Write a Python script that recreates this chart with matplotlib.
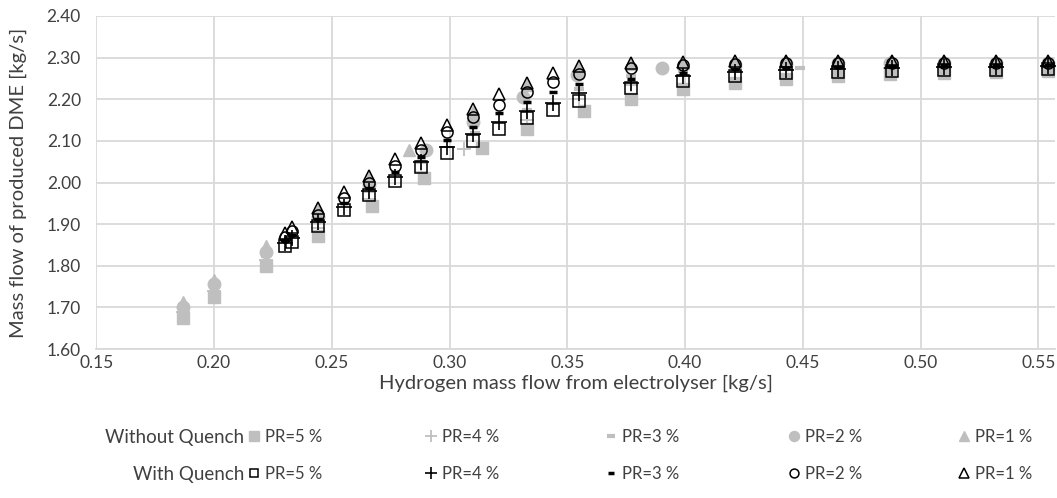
import matplotlib
matplotlib.use("Agg")
import matplotlib.pyplot as plt
from matplotlib.lines import Line2D

plt.rcParams["font.family"] = ["Lato", "DejaVu Sans"]

GREY = "#BFBFBF"
BLACK = "#000000"

# without quench (grey, filled)
nq_sq_x = [0.187, 0.200, 0.222, 0.244, 0.267, 0.289, 0.314, 0.333, 0.357, 0.377, 0.399, 0.421, 0.443, 0.465, 0.487, 0.510, 0.532, 0.554]
nq_sq_y = [1.675, 1.725, 1.800, 1.872, 1.943, 2.010, 2.082, 2.128, 2.172, 2.200, 2.224, 2.238, 2.248, 2.255, 2.260, 2.263, 2.265, 2.267]

nq_pl_x = [0.187, 0.200, 0.222, 0.244, 0.266, 0.288, 0.306, 0.333, 0.355, 0.377, 0.399, 0.421, 0.443, 0.465, 0.487, 0.510, 0.532, 0.554]
nq_pl_y = [1.690, 1.740, 1.815, 1.890, 1.960, 2.025, 2.080, 2.150, 2.200, 2.235, 2.255, 2.265, 2.270, 2.272, 2.274, 2.275, 2.276, 2.276]

nq_da_x = [0.187, 0.200, 0.222, 0.244, 0.266, 0.288, 0.311, 0.333, 0.355, 0.377, 0.399, 0.421, 0.449, 0.465, 0.487, 0.510, 0.532, 0.554]
nq_da_y = [1.695, 1.748, 1.823, 1.905, 1.980, 2.050, 2.120, 2.175, 2.225, 2.255, 2.268, 2.272, 2.275, 2.277, 2.278, 2.279, 2.280, 2.280]

nq_ci_x = [0.187, 0.200, 0.222, 0.244, 0.266, 0.290, 0.310, 0.331, 0.354, 0.390, 0.421, 0.443, 0.465, 0.487, 0.510, 0.532, 0.554]
nq_ci_y = [1.700, 1.756, 1.832, 1.918, 1.995, 2.078, 2.145, 2.205, 2.258, 2.275, 2.283, 2.285, 2.286, 2.287, 2.287, 2.287, 2.287]

nq_tr_x = [0.187, 0.200, 0.222, 0.244, 0.266, 0.283, 0.310, 0.333, 0.355, 0.377, 0.399, 0.421, 0.443, 0.465, 0.487, 0.510, 0.532, 0.554]
nq_tr_y = [1.712, 1.766, 1.848, 1.935, 2.012, 2.078, 2.170, 2.235, 2.278, 2.285, 2.288, 2.289, 2.290, 2.290, 2.290, 2.290, 2.290, 2.290]

# with quench (black, hollow)
wq_x = [0.230, 0.233, 0.244, 0.255, 0.266, 0.277, 0.288, 0.299, 0.310, 0.321, 0.333, 0.344, 0.355, 0.377, 0.399, 0.421, 0.443, 0.465, 0.488, 0.510, 0.532, 0.554]
wq_sq = [1.847, 1.857, 1.895, 1.934, 1.970, 2.004, 2.037, 2.071, 2.100, 2.128, 2.155, 2.174, 2.196, 2.227, 2.244, 2.256, 2.263, 2.266, 2.268, 2.270, 2.270, 2.272]
wq_pl = [1.855, 1.866, 1.905, 1.942, 1.980, 2.014, 2.050, 2.085, 2.117, 2.145, 2.172, 2.192, 2.214, 2.238, 2.255, 2.265, 2.270, 2.273, 2.275, 2.277, 2.278, 2.279]
wq_da = [1.862, 1.875, 1.912, 1.950, 1.988, 2.025, 2.062, 2.102, 2.133, 2.167, 2.193, 2.217, 2.237, 2.249, 2.263, 2.272, 2.276, 2.278, 2.280, 2.281, 2.281, 2.282]
wq_ci = [1.870, 1.884, 1.922, 1.963, 2.000, 2.040, 2.078, 2.121, 2.157, 2.186, 2.217, 2.241, 2.261, 2.276, 2.282, 2.285, 2.286, 2.287, 2.287, 2.287, 2.287, 2.287]
wq_tr = [1.879, 1.893, 1.939, 1.977, 2.015, 2.056, 2.095, 2.138, 2.177, 2.212, 2.239, 2.263, 2.280, 2.287, 2.290, 2.291, 2.291, 2.291, 2.291, 2.291, 2.291, 2.291]

labels = ["PR=5 %", "PR=4 %", "PR=3 %", "PR=2 %", "PR=1 %"]

fig = plt.figure(figsize=(10.57, 4.98), dpi=100)
ax = fig.add_axes([0.091, 0.299, 0.907, 0.669])

grey_styles = [
    dict(marker="s", ms=9, mfc=GREY, mec=GREY),
    dict(marker="+", ms=10, mec=GREY, mew=1.3),
    dict(marker="_", ms=7, mec=GREY, mew=3),
    dict(marker="o", ms=9, mfc=GREY, mec=GREY),
    dict(marker="^", ms=9, mfc=GREY, mec=GREY),
]
black_styles = [
    dict(marker="s", ms=8, mfc="none", mec=BLACK, mew=1.1),
    dict(marker="+", ms=11, mec=BLACK, mew=1.2),
    dict(marker="_", ms=6, mec=BLACK, mew=2.5),
    dict(marker="o", ms=8, mfc="none", mec=BLACK, mew=1.1),
    dict(marker="^", ms=9, mfc="none", mec=BLACK, mew=1.1),
]

nq_series = [(nq_sq_x, nq_sq_y), (nq_pl_x, nq_pl_y), (nq_da_x, nq_da_y), (nq_ci_x, nq_ci_y), (nq_tr_x, nq_tr_y)]
wq_series = [wq_sq, wq_pl, wq_da, wq_ci, wq_tr]

for (xs, ys), st in zip(nq_series, grey_styles):
    ax.plot(xs, ys, ls="none", zorder=2, **st)
for ys, st in zip(wq_series, black_styles):
    ax.plot(wq_x, ys, ls="none", zorder=3, **st)

ax.set_xlim(0.15, 0.557)
ax.set_ylim(1.60, 2.40)
ax.set_xticks([0.15, 0.20, 0.25, 0.30, 0.35, 0.40, 0.45, 0.50, 0.55])
ax.set_yticks([1.60, 1.70, 1.80, 1.90, 2.00, 2.10, 2.20, 2.30, 2.40])
ax.xaxis.set_major_formatter(matplotlib.ticker.FormatStrFormatter("%.2f"))
ax.yaxis.set_major_formatter(matplotlib.ticker.FormatStrFormatter("%.2f"))
ax.grid(True, color="#D9D9D9", lw=1.3)
ax.set_axisbelow(True)
for s in ["top", "right", "left"]:
    ax.spines[s].set_visible(False)
ax.spines["bottom"].set_color("#D9D9D9")
ax.spines["bottom"].set_linewidth(1.3)
ax.tick_params(length=0, labelsize=12.5, colors="#404040")
ax.tick_params(axis="y", pad=11)
ax.tick_params(axis="x", pad=4)
ax.set_xlabel("Hydrogen mass flow from electrolyser [kg/s]", fontsize=14.5, color="#404040", labelpad=3)
ax.set_ylabel("Mass flow of produced DME [kg/s]", fontsize=14.5, color="#404040", labelpad=14)

# legend rows
fig.text(0.231, 1 - 437 / 498, "Without Quench", ha="right", va="center", fontsize=13.5, color="#404040")
fig.text(0.231, 1 - 474 / 498, "With Quench", ha="right", va="center", fontsize=13.5, color="#404040")
col_x = [247, 424, 604, 787, 957]
for row_y, styles in [(437, grey_styles), (474, black_styles)]:
    for cx, lab, st in zip(col_x, labels, styles):
        st2 = dict(st)
        st2["ms"] = st["ms"] * 0.8
        h = Line2D([], [], ls="none", **st2)
        fig.legend(handles=[h], labels=[lab], loc="center left",
                   bbox_to_anchor=(cx / 1057, 1 - row_y / 498), frameon=False,
                   fontsize=12, handlelength=0.8, handletextpad=0.3,
                   borderpad=0, borderaxespad=0, labelcolor="#404040")

fig.savefig("out.png", dpi=100)
